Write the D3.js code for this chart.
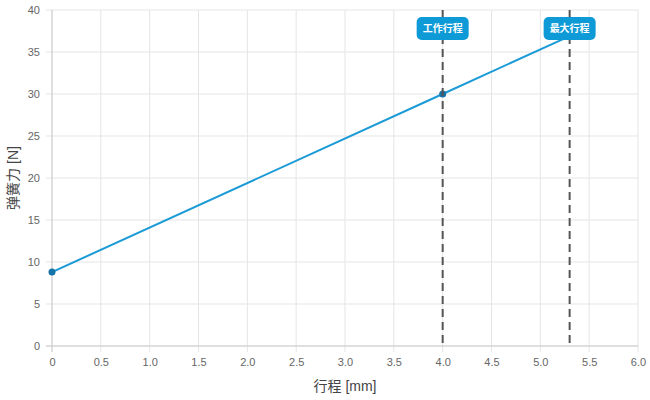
<!DOCTYPE html>
<meta charset="utf-8">
<style>
body { margin: 0; background: #fff; }
svg text { font-family: "Helvetica Neue", "Liberation Sans", "Noto Sans CJK SC", sans-serif; }
.grid line { stroke: #e5e5e5; stroke-width: 1px; }
.tick text { fill: #666; font-size: 11px; }
</style>
<body>
<svg id="chart" width="650" height="400"></svg>
<script src="https://cdn.jsdelivr.net/npm/d3@7"></script>
<script>

const strokeMm = [0, 4, 5.3]
const forceN = [8.8, 30, 36.9]
const markers = [{x: 4, label: "工作行程"}, {x: 5.3, label: "最大行程"}]
const xTicks = [0, 0.5, 1, 1.5, 2, 2.5, 3, 3.5, 4, 4.5, 5, 5.5, 6]
const yTicks = [0, 5, 10, 15, 20, 25, 30, 35, 40]

const width = 650, height = 400
const margin = {top: 10, right: 12, bottom: 54, left: 52}

const svg = d3.select("#chart")

const x = d3.scaleLinear().domain([0, 6]).range([margin.left, width - margin.right])
const y = d3.scaleLinear().domain([0, 40]).range([height - margin.bottom, margin.top])

// grid
const grid = svg.append("g").attr("class", "grid")
grid.selectAll(".v").data(xTicks).join("line")
    .attr("x1", d => x(d)).attr("x2", d => x(d))
    .attr("y1", y(40)).attr("y2", y(0) + 6)
grid.selectAll(".h").data(yTicks).join("line")
    .attr("x1", x(0) - 6).attr("x2", x(6))
    .attr("y1", d => y(d)).attr("y2", d => y(d))

// axis lines
svg.append("line").attr("x1", x(0)).attr("x2", x(0)).attr("y1", y(40)).attr("y2", y(0) + 6)
    .attr("stroke", "#ccc")
svg.append("line").attr("x1", x(0) - 6).attr("x2", x(6)).attr("y1", y(0)).attr("y2", y(0))
    .attr("stroke", "#ccc")

// tick labels
svg.append("g").attr("transform", `translate(0,${y(0)})`)
  .call(d3.axisBottom(x).tickValues(xTicks).tickSize(0).tickPadding(12)
      .tickFormat(d => d === 0 ? "0" : d3.format(".1f")(d)))
  .call(g => g.select(".domain").remove())
svg.append("g").attr("transform", `translate(${x(0)},0)`)
  .call(d3.axisLeft(y).tickValues(yTicks).tickSize(0).tickPadding(12))
  .call(g => g.select(".domain").remove())

// axis titles
svg.append("text").attr("x", (x(0) + x(6)) / 2).attr("y", 391)
  .attr("text-anchor", "middle").attr("fill", "#444").attr("font-size", 14)
  .text("行程 [mm]")
svg.append("text").attr("transform", `translate(18,${(y(0) + y(40)) / 2}) rotate(-90)`)
  .attr("text-anchor", "middle").attr("fill", "#444").attr("font-size", 14)
  .text("弹簧力 [N]")

// spring line
const data = strokeMm.map((d, i) => [d, forceN[i]])
svg.append("path").datum(data)
  .attr("fill", "none").attr("stroke", "#1a9ad6").attr("stroke-width", 2)
  .attr("d", d3.line().x(d => x(d[0])).y(d => y(d[1])))
svg.selectAll(".pt").data(data.slice(0, 2)).join("circle")
  .attr("cx", d => x(d[0])).attr("cy", d => y(d[1])).attr("r", 3.5)
  .attr("fill", "#1573a8")

// markers
const mk = svg.selectAll(".marker").data(markers).join("g")
mk.append("line")
  .attr("x1", d => x(d.x)).attr("x2", d => x(d.x))
  .attr("y1", y(40)).attr("y2", y(0))
  .attr("stroke", "#555").attr("stroke-width", 2).attr("stroke-dasharray", "8,5")
mk.append("rect")
  .attr("x", d => x(d.x) - 26).attr("y", 17).attr("width", 52).attr("height", 23)
  .attr("rx", 5).attr("fill", "#0e9ad7")
mk.append("text")
  .attr("x", d => x(d.x)).attr("y", 32).attr("text-anchor", "middle")
  .attr("fill", "#fff").attr("font-size", 10).attr("font-weight", "bold")
  .text(d => d.label)

</script>
